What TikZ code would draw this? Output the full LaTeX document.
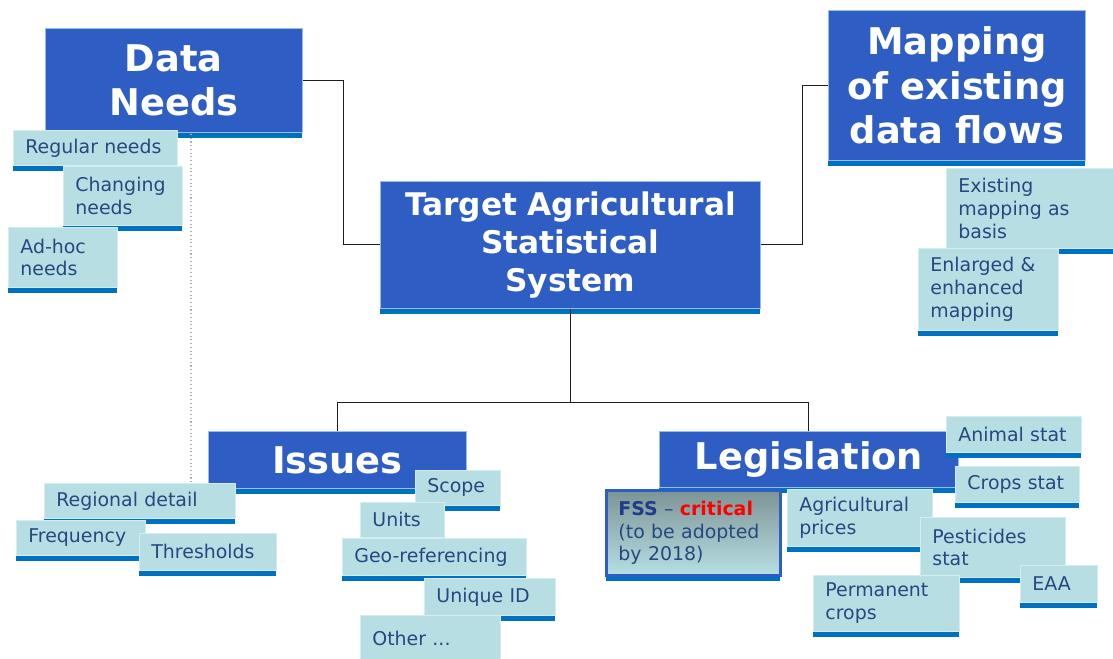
\documentclass[tikz,border=0pt]{standalone}
\usepackage{fontspec}
\setmainfont{DejaVu Sans}
\usetikzlibrary{shadows}

\definecolor{mainblue}{RGB}{46,94,196}
\definecolor{mainedge}{RGB}{150,190,235}
\definecolor{shadeblue}{RGB}{0,112,192}
\definecolor{leaffill}{RGB}{183,223,227}
\definecolor{leafedge}{RGB}{210,238,242}
\definecolor{leaftext}{RGB}{38,72,128}
\definecolor{fsstop}{RGB}{125,148,150}
\definecolor{fssnavy}{RGB}{30,60,135}
\definecolor{linegray}{RGB}{30,30,30}

\tikzset{
  blueshadow/.style={drop shadow={shadow xshift=0pt, shadow yshift=-4pt, fill=shadeblue, opacity=1}},
  headbox/.style={rectangle, fill=mainblue, draw=mainedge, line width=0.6pt,
    text=white, align=center, inner xsep=8pt, inner ysep=0pt, blueshadow},
  leafbox/.style={rectangle, fill=leaffill, draw=leafedge, line width=0.6pt,
    text=leaftext, align=left, inner xsep=9pt, inner ysep=0pt, blueshadow,
    font=\fontsize{14.2}{17.1}\selectfont},
  fssbox/.style={leafbox, top color=fsstop, bottom color=leaffill, draw=mainblue, line width=2.2pt},
  link/.style={draw=linegray, line width=0.75pt},
  bigfont/.style={font=\bfseries\fontsize{27.6}{33.5}\selectfont},
  midfont/.style={font=\bfseries\fontsize{23.4}{28.5}\selectfont},
}

% box from its corners (in px): style, name, x1, y1, x2, y2, text
\newcommand\boxat[7]{%
  \pgfmathsetmacro\bw{(#5-#3)*0.75}%
  \pgfmathsetmacro\bh{(#6-#4)*0.75}%
  \pgfmathsetmacro\tw{(#5-#3)*0.75-18}%
  \node[#1, anchor=north west, minimum width=\bw pt, minimum height=\bh pt,
        text width=\tw pt] (#2) at (#3,#4) {#7};}

\begin{document}
\begin{tikzpicture}[x=0.75pt, y=-0.75pt]
\useasboundingbox (0,0) rectangle (1113,659);

% central topic
\boxat{headbox, midfont}{tass}{380}{181}{760}{308}{Target Agricultural\\Statistical\\System}

% main branches
\boxat{headbox, bigfont}{dn}{45}{28}{302}{132}{Data\\Needs}
\boxat{headbox, bigfont}{map}{828}{10}{1085}{160}{Mapping\\of existing\\data flows}

% connectors
\draw[link] (dn.east) -- ++(41,0) |- (tass.west);
\draw[link] (tass.east) -- ++(42,0) |- (map.west);
\draw[link] (tass.south) -- ++(0,94) coordinate (fork) -| (337,431);
\draw[link] (fork) -| (808.5,431);
\coordinate (dtop) at (191,134);
\coordinate (dbot) at (191,484);
\draw[gray!60, dotted, line width=0.8pt] (dtop) -- (dbot);

% Data needs
\boxat{leafbox}{reg}{13}{130}{177}{165}{Regular needs}
\boxat{leafbox}{chg}{63}{166}{182}{225}{Changing\\needs}
\boxat{leafbox}{adh}{8}{227}{117}{287}{Ad-hoc\\needs}

% Mapping
\boxat{leafbox}{exm}{946}{168}{1116}{248}{Existing\\mapping as\\basis}
\boxat{leafbox}{enl}{918}{248}{1058}{330}{Enlarged \&\\enhanced\\mapping}

% Issues
\boxat{headbox, bigfont}{iss}{208}{431}{466}{488}{Issues}
\boxat{leafbox}{regd}{44}{483}{235}{518}{Regional detail}
\boxat{leafbox}{freq}{16}{520}{145}{555}{Frequency}
\boxat{leafbox}{thr}{139}{533}{276}{570}{Thresholds}
\boxat{leafbox}{scp}{415}{470}{500}{505}{Scope}
\boxat{leafbox}{unt}{360}{502}{444}{537}{Units}
\boxat{leafbox}{geo}{342}{538}{526}{575}{Geo-referencing}
\boxat{leafbox}{uid}{424}{578}{555}{615}{Unique ID}
\boxat{leafbox}{oth}{360}{615}{500}{662}{Other ...}

% Legislation
\boxat{headbox, bigfont}{leg}{659}{431}{958}{487}{Legislation}
\boxat{fssbox}{fss}{605}{489}{779}{574}{\textbf{\color{fssnavy}FSS} -- \textbf{\color{red}critical}\\(to be adopted\\by 2018)}
\boxat{leafbox}{agp}{787}{489}{932}{546}{Agricultural\\prices}
\boxat{leafbox}{ani}{946}{416}{1081}{452}{Animal stat}
\boxat{leafbox}{crp}{955}{466}{1079}{502}{Crops stat}
\boxat{leafbox}{pes}{920}{517}{1065}{577}{Pesticides\\stat}
\boxat{leafbox}{eaa}{1020}{565}{1097}{602}{EAA}
\boxat{leafbox}{prm}{813}{575}{959}{631}{Permanent\\crops}
\end{tikzpicture}
\end{document}
